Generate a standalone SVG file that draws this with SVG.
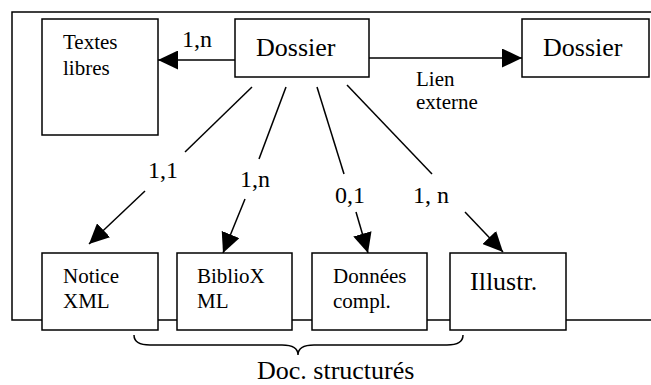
<svg xmlns="http://www.w3.org/2000/svg" width="651" height="385" viewBox="0 0 651 385">
<style>
.box{fill:#fff;stroke:#000;stroke-width:1.5}
.ln{fill:none;stroke:#000;stroke-width:1.5}
.s{font-size:21px}
.m{font-size:24px}
.b{font-size:26px}
</style>
<defs>
<marker id="ah" viewBox="0 0 20 19" refX="20" refY="9.5" markerWidth="20" markerHeight="19" markerUnits="userSpaceOnUse" orient="auto">
<path d="M0,0 L20,9.5 L0,19 z" fill="#000"/>
</marker>
</defs>
<g font-family="Liberation Serif, Tinos, DejaVu Serif, serif" fill="#000">
<path id="frame" class="ln" d="M652,12 H12 V320 H652"/>
<g id="connectors">
<line class="ln" x1="235" y1="60" x2="158" y2="60" marker-end="url(#ah)"/>
<line class="ln" x1="369" y1="58" x2="522" y2="58" marker-end="url(#ah)"/>
<line class="ln" x1="252" y1="87" x2="185" y2="152"/>
<line class="ln" x1="145" y1="191" x2="89" y2="244" marker-end="url(#ah)"/>
<line class="ln" x1="286" y1="87" x2="259" y2="159"/>
<line class="ln" x1="245" y1="199" x2="223" y2="253" marker-end="url(#ah)"/>
<line class="ln" x1="317" y1="87" x2="344" y2="174"/>
<line class="ln" x1="356" y1="212" x2="368" y2="253" marker-end="url(#ah)"/>
<line class="ln" x1="347" y1="85" x2="432" y2="174"/>
<line class="ln" x1="465" y1="212" x2="503" y2="252" marker-end="url(#ah)"/>
<text class="m" x="182" y="47">1,n</text>
<text class="s" x="416" y="86">Lien</text>
<text class="s" x="416" y="109">externe</text>
<text class="m" x="148" y="178">1,1</text>
<text class="m" x="240" y="187">1,n</text>
<text class="m" x="335" y="203">0,1</text>
<text class="m" x="413" y="203">1, n</text>
</g>
<g id="textes-libres">
<rect class="box" x="42" y="19" width="116" height="116"/>
<text class="s" x="63" y="49">Textes</text>
<text class="s" x="63" y="75">libres</text>
</g>
<g id="dossier">
<rect class="box" x="235" y="19" width="134" height="58"/>
<text class="b" x="256" y="56">Dossier</text>
</g>
<g id="dossier-externe">
<rect class="box" x="522" y="19" width="127" height="58"/>
<text class="b" x="543" y="56">Dossier</text>
</g>
<g id="notice-xml">
<rect class="box" x="42" y="253" width="116" height="77"/>
<text class="s" x="63" y="283">Notice</text>
<text class="s" x="63" y="308">XML</text>
</g>
<g id="biblioxml">
<rect class="box" x="177" y="253" width="115" height="77"/>
<text class="s" x="197" y="283">BiblioX</text>
<text class="s" x="197" y="308">ML</text>
</g>
<g id="donnees">
<rect class="box" x="312" y="253" width="115" height="77"/>
<text class="s" x="333" y="283">Données</text>
<text class="s" x="333" y="308">compl.</text>
</g>
<g id="illustr">
<rect class="box" x="450" y="253" width="116" height="77"/>
<text class="b" x="470" y="290">Illustr.</text>
</g>
<g id="doc-structures">
<path class="ln" d="M134,335 Q134,345 150,345 H282 Q298,345 298,355 Q298,345 314,345 H447 Q463,345 463,335"/>
<text class="b" x="257" y="379">Doc. structurés</text>
</g>
</g>
</svg>
